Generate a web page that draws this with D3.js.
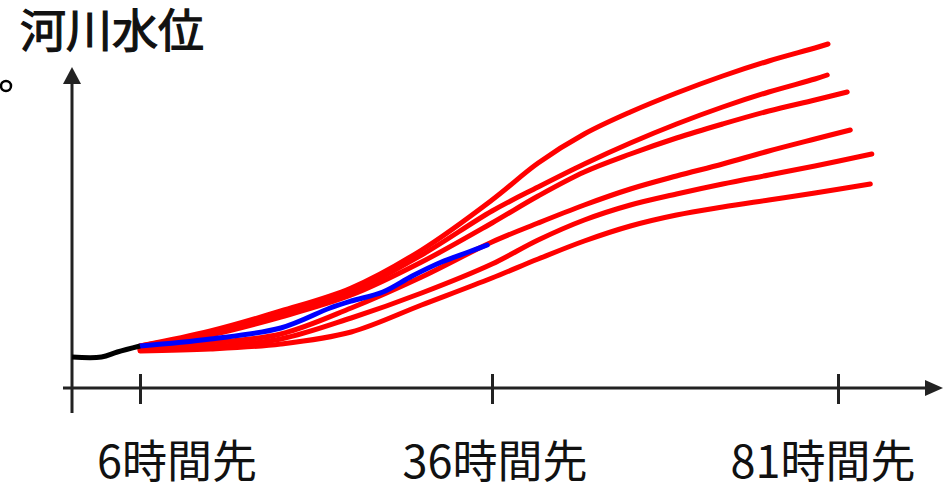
<!DOCTYPE html>
<html><head><meta charset="utf-8">
<script src="https://cdn.jsdelivr.net/npm/d3@7"></script>
<style>
html,body{margin:0;padding:0;background:#fff;}
svg{display:block;font-family:"Noto Sans CJK JP","Noto Sans",sans-serif;}
</style></head>
<body>
<svg id="chart" width="946" height="487"></svg>
<script>
// ---- data ----
const titleText = "河川水位";
const tickHours = [6, 36, 81];
const tickLabels = ["6時間先", "36時間先", "81時間先"];

const observedHours = [0, 2.6, 4, 6];
const observedLevels = [31, 31, 36, 42];

const actualHours = [6, 12, 18, 22.2, 24, 26.7, 29.2, 31.7, 34, 35.6];
const actualLevels = [42, 49, 60, 80, 87, 96, 112, 126, 136, 143];

const forecastHours = [6, 12, 18, 24, 30, 36, 42, 48, 54, 60, 66, 72, 78];
const forecast1 = [42, 57, 77, 100, 138, 188, 225, 254, 276, 295, 312, 327, 340];
const forecast2 = [42, 55, 75, 96, 133, 177, 201, 224, 245, 264, 281, 296, 309];
const forecast3 = [41, 53, 71, 93, 126, 165, 192, 216, 234, 250, 264, 277, 288];
const forecast4 = [39, 45, 54, 80, 111, 146, 165, 183, 199, 212, 224, 237, 249];
const forecast5 = [38, 41, 49, 70, 95, 124, 148, 168, 183, 194, 204, 213, 222];
const forecast6 = [37, 39, 44, 56, 83, 110, 129, 147, 162, 173, 181, 188, 195];
const forecastEndHours = [79.7, 79.6, 82.2, 82.6, 85.4, 85.2];
const forecastEndLevels = [344, 313, 296, 258, 234, 204];

// ---- drawing ----
const svg = d3.select("#chart");
const x = d3.scaleLinear().domain([0, 6, 36, 81]).range([72, 140, 492, 838]);
const y = d3.scaleLinear().domain([0, 320]).range([388, 68]);
const axisColor = "#222";

// title
svg.append("text").attr("x", 20).attr("y", 47)
  .attr("font-size", 46).attr("font-weight", 400).attr("fill", "#111")
  .attr("stroke", "#111").attr("stroke-width", 1.2)
  .text(titleText);
// small circle at left edge
svg.append("circle").attr("cx", 6).attr("cy", 86).attr("r", 5)
  .attr("fill", "none").attr("stroke", "#000").attr("stroke-width", 2.5);

// y axis line with arrow
svg.append("line").attr("x1", x(0)).attr("x2", x(0)).attr("y1", 413).attr("y2", 80)
  .attr("stroke", axisColor).attr("stroke-width", 3);
svg.append("path").attr("d", `M${x(0)},67 L${x(0)-9},84 L${x(0)+9},84 Z`).attr("fill", axisColor);
// x axis line with arrow
svg.append("line").attr("x1", 63).attr("x2", 928).attr("y1", y(0)).attr("y2", y(0))
  .attr("stroke", axisColor).attr("stroke-width", 3);
svg.append("path").attr("d", `M943,${y(0)} L925,${y(0)-8} L925,${y(0)+8} Z`).attr("fill", axisColor);

// ticks via d3 axis
const xAxis = d3.axisBottom(x).tickValues(tickHours).tickSize(16).tickFormat("");
const gx = svg.append("g").attr("transform", `translate(0,${y(0)})`).call(xAxis);
gx.select(".domain").remove();
gx.selectAll(".tick line").attr("y1", -14).attr("y2", 16)
  .attr("stroke", axisColor).attr("stroke-width", 3);

// tick labels
const labelShift = [37, 3, -15];
svg.selectAll("text.tl").data(tickHours).join("text").attr("class", "tl")
  .attr("x", (d, i) => x(d) + labelShift[i]).attr("y", 478)
  .attr("text-anchor", "middle").attr("font-size", 45).attr("fill", "#111")
  .text((d, i) => tickLabels[i]);

const line = d3.line().x(d => x(d[0])).y(d => y(d[1])).curve(d3.curveCatmullRom.alpha(0.5));
const forecasts = [forecast1, forecast2, forecast3, forecast4, forecast5, forecast6];
forecasts.forEach((f, i) => {
  const pts = forecastHours.map((h, j) => [h, f[j]]);
  pts.push([forecastEndHours[i], forecastEndLevels[i]]);
  svg.append("path").attr("d", line(pts)).attr("fill", "none")
    .attr("stroke", "#ff0000").attr("stroke-width", 5).attr("stroke-linecap", "round");
});
svg.append("path").attr("d", line(actualHours.map((h, j) => [h, actualLevels[j]])))
  .attr("fill", "none").attr("stroke", "#0000ff").attr("stroke-width", 5).attr("stroke-linecap", "round");
svg.append("path").attr("d", line(observedHours.map((h, j) => [h, observedLevels[j]])))
  .attr("fill", "none").attr("stroke", "#000").attr("stroke-width", 5);
</script>
</body></html>
